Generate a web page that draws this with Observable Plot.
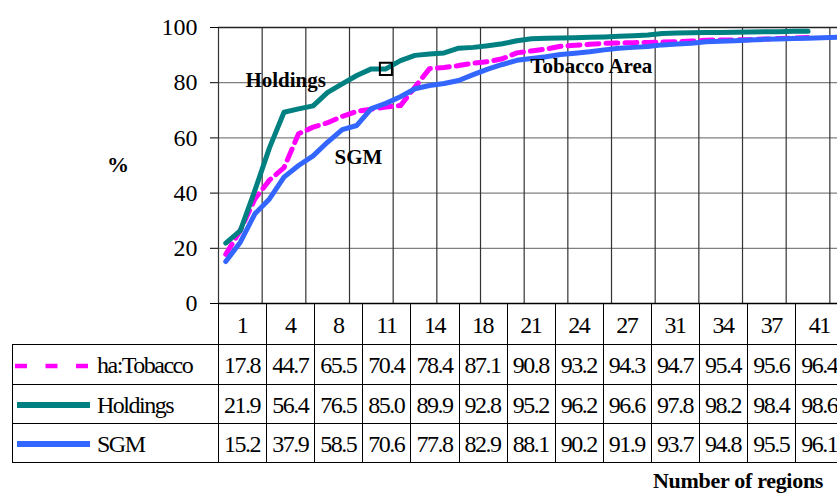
<!DOCTYPE html>
<html><head><meta charset="utf-8">
<script src="https://cdn.jsdelivr.net/npm/d3@7"></script>
<script src="https://cdn.jsdelivr.net/npm/@observablehq/plot@0.6"></script>
<style>
body{margin:0;background:#fff;}
#root{position:relative;width:837px;height:494px;overflow:hidden;background:#fff;font-family:"Times New Roman","Liberation Serif",Tinos,"DejaVu Serif",serif;color:#000;}
#chart{position:absolute;left:0;top:0;}
.ln{position:absolute;background:#000;}
.tx{position:absolute;display:flex;align-items:center;justify-content:center;font-size:24px;letter-spacing:-1.5px;white-space:nowrap;box-sizing:border-box;padding-top:3px;}
</style></head>
<body><div id="root"><div id="chart"></div></div>
<script>
// ---- data ----
const seriesNames = ["ha:Tobacco", "Holdings", "SGM"];
const tobacco = [17.8, 26.5, 37.9, 44.7, 49.2, 61.5, 63.9, 65.5, 67.8, 69.6, 70.4, 71.2, 71.7, 78.4, 85.1, 85.5, 86.2, 87.1, 87.6, 88.7,
  90.8, 91.5, 92.2, 93.2, 93.6, 93.9, 94.3, 94.4, 94.5, 94.6, 94.7, 94.9, 95.1, 95.4, 95.5, 95.5, 95.6, 95.8, 96.0, 96.2, 96.4];
const holdings = [21.9, 26.4, 41.0, 56.4, 69.3, 70.5, 71.6, 76.5, 79.6, 82.6, 85.0, 85.0, 88.0, 89.9, 90.4, 90.8, 92.5, 92.8, 93.4, 94.1,
  95.2, 95.9, 96.1, 96.2, 96.3, 96.5, 96.6, 96.8, 97.0, 97.3, 97.8, 98.0, 98.1, 98.2, 98.2, 98.3, 98.4, 98.5, 98.5, 98.6, 98.6];
const sgm = [15.2, 22.2, 32.5, 37.9, 45.8, 50.0, 53.5, 58.5, 63.0, 64.5, 70.6, 72.5, 74.9, 77.8, 79.0, 79.7, 80.8, 82.9, 84.9, 86.6,
  88.1, 88.8, 89.4, 90.2, 90.7, 91.2, 91.9, 92.5, 92.8, 93.1, 93.7, 94.0, 94.3, 94.8, 95.0, 95.2, 95.5, 95.7, 95.8, 96.0, 96.1, 96.3, 96.5];
const tableRegions = [1, 4, 8, 11, 14, 18, 21, 24, 27, 31, 34, 37, 41];
const yTicks = [0, 20, 40, 60, 80, 100];
const annotations = [
  {label: "Holdings", region: 2.35, value: 80.8},
  {label: "SGM", region: 8.47, value: 53.0},
  {label: "Tobacco Area", region: 21.93, value: 86.05}
];
const markerRegion = 12; // hollow square on Holdings
const xLabel = "Number of regions";
const yLabel = "%";

// ---- styling / layout ----
const serif = "'Times New Roman','Liberation Serif',Tinos,'DejaVu Serif',serif";
const colors = {"ha:Tobacco": "#FF00FF", "Holdings": "#008080", "SGM": "#3366FF"};
const nCategories = 45, gridEvery = 3, catW = 14.556, plotLeft = 218;
const seriesData = {"ha:Tobacco": tobacco, "Holdings": holdings, "SGM": sgm};
const toRows = arr => arr.map((v, i) => ({region: i + 1, value: v}));
const boundaries = d3.range(0, nCategories + 1, gridEvery).map(k => k + 0.5);

const chart = Plot.plot({
  width: 837, height: 320,
  marginTop: 27, marginBottom: 17, marginLeft: plotLeft, marginRight: 0,
  style: {fontFamily: serif, fontSize: "24px", background: "transparent", color: "#000"},
  x: {domain: [0.5, nCategories + 0.5], range: [plotLeft, plotLeft + nCategories * catW], axis: null},
  y: {domain: [0, 100], ticks: yTicks, tickSize: 8, tickPadding: 13, label: null},
  marks: [
    Plot.ruleY(yTicks.filter(t => t > 0 && t < 100), {stroke: "#808080", strokeWidth: 1.2}),
    Plot.ruleX(boundaries, {y1: 0, y2: 100, stroke: "#333", strokeWidth: 1.2}),
    Plot.ruleY([100], {stroke: "#222", strokeWidth: 1.3}),
    Plot.ruleY([0], {stroke: "#000", strokeWidth: 1.3}),
    Plot.line(toRows(tobacco), {x: "region", y: "value", stroke: colors["ha:Tobacco"], strokeWidth: 5, strokeDasharray: "12,7", strokeLinejoin: "round"}),
    Plot.line(toRows(holdings), {x: "region", y: "value", stroke: colors["Holdings"], strokeWidth: 5, strokeLinejoin: "round"}),
    Plot.line(toRows(sgm), {x: "region", y: "value", stroke: colors["SGM"], strokeWidth: 5, strokeLinejoin: "round"}),
    Plot.dot([{region: markerRegion, value: holdings[markerRegion - 1]}], {x: "region", y: "value", symbol: "square", r: 6.8, stroke: "#000", strokeWidth: 2, fill: "none"}),
    Plot.text(annotations, {x: "region", y: "value", text: "label", textAnchor: "start", fontWeight: "bold", fontSize: 21})
  ]
});
document.getElementById("chart").appendChild(chart);

// ---- data table below the chart ----
const root = document.getElementById("root");
const colW = 48.1, legendLeft = 12;
const rowY = [303, 344, 384, 423, 462];
const tableRight = plotLeft + tableRegions.length * colW;
// white backing under the table so the svg below the axis stays clean
const bg = document.createElement("div");
Object.assign(bg.style, {position: "absolute", left: (plotLeft - 40) + "px", top: (rowY[0] + 1) + "px", width: "700px", height: "16px", background: "transparent"});
root.appendChild(bg);
function line(x, y, w, h) {
  const d = document.createElement("div"); d.className = "ln";
  Object.assign(d.style, {left: x + "px", top: y + "px", width: w + "px", height: h + "px"});
  root.appendChild(d);
}
function text(str, x, y, w, h, extra) {
  const d = document.createElement("div"); d.className = "tx"; d.textContent = str;
  Object.assign(d.style, {left: x + "px", top: y + "px", width: w + "px", height: h + "px"}, extra || {});
  root.appendChild(d);
  return d;
}
// horizontal lines
line(plotLeft, rowY[0], tableRight - plotLeft, 1);
for (let r = 1; r < rowY.length; r++) line(legendLeft, rowY[r], tableRight - legendLeft, 1);
// vertical lines
line(legendLeft, rowY[1], 1, rowY[4] - rowY[1] + 1);
for (let k = 0; k <= tableRegions.length; k++) line(plotLeft + k * colW, rowY[0], 1, rowY[4] - rowY[0] + 1);
// header
tableRegions.forEach((reg, k) => text(String(reg), plotLeft + k * colW, rowY[0], colW, rowY[1] - rowY[0]));
// rows
seriesNames.forEach((name, r) => {
  const y0 = rowY[r + 1], h = rowY[r + 2] - y0;
  tableRegions.forEach((reg, k) => text(seriesData[name][reg - 1].toFixed(1), plotLeft + k * colW, y0, colW, h));
  text(name, 97, y0, 120, h, {justifyContent: "flex-start"});
  // legend swatch
  const svg = d3.create("svg").attr("width", 90).attr("height", 12)
    .style("position", "absolute").style("left", "0px").style("top", (y0 + h / 2 - 6 + 1.5) + "px");
  const dashed = name === "ha:Tobacco";
  svg.append("line").attr("x1", dashed ? 15 : 17).attr("x2", dashed ? 88 : 92).attr("y1", 6).attr("y2", 6)
    .attr("stroke", colors[name]).attr("stroke-width", dashed ? 4.5 : 6)
    .attr("stroke-dasharray", dashed ? "12,18.5" : null);
  root.appendChild(svg.node());
});
// axis titles
text(xLabel, 653, 469, 184, 24, {fontWeight: "bold", fontSize: "22px", letterSpacing: "-0.3px", justifyContent: "flex-start", paddingTop: "0px"});
text(yLabel, 100, 152, 36, 26, {fontWeight: "bold", fontSize: "22px", letterSpacing: "0px", paddingTop: "0px"});
</script>
</body></html>
